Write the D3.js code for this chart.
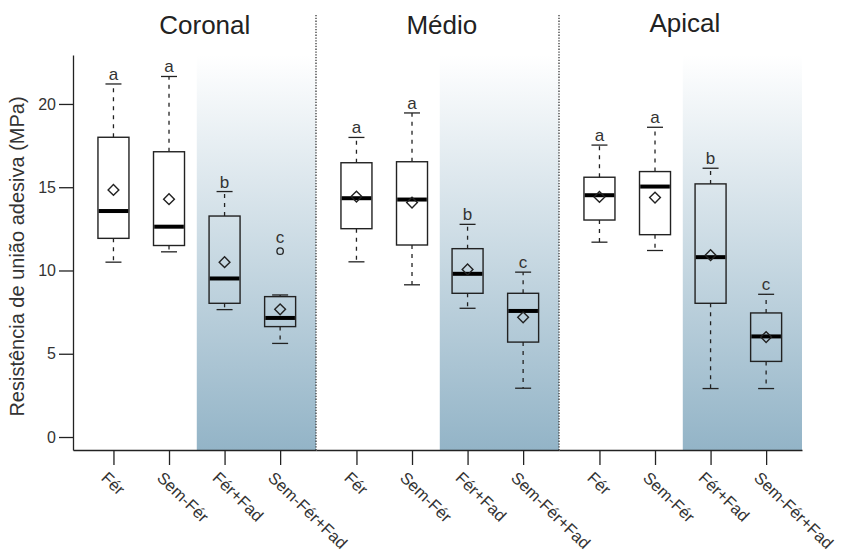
<!DOCTYPE html>
<html>
<head>
<meta charset="utf-8">
<script src="https://cdn.jsdelivr.net/npm/d3@7"></script>
<style>
  body { margin: 0; background: #fff; }
  svg { font-family: "Liberation Sans", Arial, sans-serif; }
  .axis text { fill: #333; }
  .axis path, .axis line { stroke: #222; stroke-width: 1.3; }
</style>
</head>
<body>
<svg id="chart" width="842" height="554"></svg>
<script>
// regions (panels) and treatment groups
const regions = ["Coronal", "Médio", "Apical"];
const groups = ["Fér", "Sem-Fér", "Fér+Fad", "Sem-Fér+Fad"];

// box statistics, 12 boxes in panel order (Coronal x4, Médio x4, Apical x4)
const whiskerLow  = [10.5, 11.12, 7.65, 5.62,  10.52, 9.14, 7.73, 2.93,  11.7, 11.2, 2.91, 2.91];
const q1          = [11.93, 11.5, 8.03, 6.63,  12.51, 11.53, 8.63, 5.7,  13.03, 12.15, 8.03, 4.54];
const medians     = [13.57, 12.63, 9.52, 7.15, 14.34, 14.26, 9.8, 7.57,  14.52, 15.04, 10.8, 6.04];
const q3          = [18.0, 17.13, 13.27, 8.43, 16.47, 16.53, 11.31, 8.63, 15.6, 15.94, 15.2, 7.45];
const whiskerHigh = [21.2, 21.65, 14.74, 8.53, 17.99, 19.46, 12.77, 9.9,  17.53, 18.6, 16.14, 8.57];
const means       = [14.84, 14.28, 10.5, 7.67, 14.44, 14.08, 10.06, 7.19, 14.42, 14.38, 10.92, 6.0];
const outliers    = [[], [], [], [11.16], [], [], [], [], [], [], [], []];
const letters     = ["a", "a", "b", "c", "a", "a", "b", "c", "a", "a", "b", "c"];
const yTicks = [0, 5, 10, 15, 20];

const svg = d3.select("#chart");
const plot = { left: 73, right: 802, top: 55, bottom: 450 };

const y = d3.scaleLinear().domain([-0.78, 22.94]).range([plot.bottom, plot.top]);

const xPanel = d3.scaleBand().domain(regions).range([plot.left, plot.right]);
const xInner = d3.scalePoint().domain(groups).range([0, xPanel.bandwidth()])
    .padding(0.687).align(0.53);

const boxes = [];
regions.forEach((r, i) => groups.forEach((g, j) => {
    const k = i * 4 + j;
    boxes.push({
        region: r, group: g,
        lo: whiskerLow[k], q1: q1[k], med: medians[k], q3: q3[k], hi: whiskerHigh[k],
        mean: means[k], out: outliers[k], letter: letters[k]
    });
}));
const bx = d => xPanel(d.region) + xInner(d.group);

// background gradient for the "+Fad" halves
const defs = svg.append("defs");
const grad = defs.append("linearGradient")
    .attr("id", "shade")
    .attr("gradientUnits", "userSpaceOnUse")
    .attr("x1", 0).attr("x2", 0)
    .attr("y1", plot.top).attr("y2", plot.bottom);
grad.append("stop").attr("offset", "0%").attr("stop-color", "#ffffff");
grad.append("stop").attr("offset", "100%").attr("stop-color", "#93b4c7");

const shadeStart = r => xPanel(r) + (xInner(groups[1]) + xInner(groups[2])) / 2;
svg.append("g").selectAll("rect")
    .data(regions)
    .join("rect")
    .attr("x", shadeStart)
    .attr("y", plot.top)
    .attr("width", r => xPanel(r) + xPanel.bandwidth() - shadeStart(r))
    .attr("height", plot.bottom - plot.top)
    .attr("fill", "url(#shade)");

// dotted panel separators
svg.append("g").selectAll("line")
    .data(regions.slice(1))
    .join("line")
    .attr("x1", r => xPanel(r)).attr("x2", r => xPanel(r))
    .attr("y1", 15).attr("y2", plot.bottom)
    .attr("stroke", "#444")
    .attr("stroke-width", 1.4)
    .attr("stroke-dasharray", "1.3,1.5");

// panel titles
const titleDx = [8, 2, 2];
const titleDy = [0, 0, -2];
svg.append("g").selectAll("text")
    .data(regions)
    .join("text")
    .attr("x", (r, i) => shadeStart(r) + titleDx[i])
    .attr("y", (r, i) => 34 + titleDy[i])
    .attr("text-anchor", "middle")
    .attr("font-size", 26)
    .attr("fill", "#222")
    .text(r => r);

// y axis
svg.append("g")
    .attr("class", "axis")
    .attr("transform", `translate(${plot.left},0)`)
    .call(d3.axisLeft(y).tickValues(yTicks).tickSize(14).tickSizeOuter(0).tickPadding(3))
    .call(g => g.selectAll("text").attr("font-size", 16));

svg.append("text")
    .attr("transform", `translate(24,${(plot.top + plot.bottom) / 2 + 4}) rotate(-90)`)
    .attr("text-anchor", "middle")
    .attr("font-size", 20)
    .attr("fill", "#333")
    .text("Resistência de união adesiva (MPa)");

// x axis, one piece per panel
regions.forEach(r => {
    svg.append("g")
        .attr("class", "axis")
        .attr("transform", `translate(${xPanel(r)},${plot.bottom})`)
        .call(d3.axisBottom(xInner).tickSize(15).tickSizeOuter(0))
        .call(g => g.selectAll("text")
            .attr("x", 0).attr("y", 0).attr("dy", "0.75em")
            .attr("text-anchor", "start")
            .attr("font-size", 16.5)
            .attr("transform", "translate(-5,20) rotate(44)"));
});

// boxplots
const boxW = 31, capW = 16;
const bg = svg.append("g").selectAll("g")
    .data(boxes)
    .join("g");

// whiskers
bg.append("line")
    .attr("x1", bx).attr("x2", bx)
    .attr("y1", d => y(d.q3)).attr("y2", d => y(d.hi))
    .attr("stroke", "#222").attr("stroke-width", 1.3).attr("stroke-dasharray", "4,5");
bg.append("line")
    .attr("x1", bx).attr("x2", bx)
    .attr("y1", d => y(d.q1)).attr("y2", d => y(d.lo))
    .attr("stroke", "#222").attr("stroke-width", 1.3).attr("stroke-dasharray", "4,5");
// caps
bg.selectAll("line.cap")
    .data(d => [{ x: bx(d), v: d.hi }, { x: bx(d), v: d.lo }])
    .join("line")
    .attr("class", "cap")
    .attr("x1", c => c.x - capW / 2).attr("x2", c => c.x + capW / 2)
    .attr("y1", c => y(c.v)).attr("y2", c => y(c.v))
    .attr("stroke", "#222").attr("stroke-width", 1.3);
// box
bg.append("rect")
    .attr("x", d => bx(d) - boxW / 2)
    .attr("y", d => y(d.q3))
    .attr("width", boxW)
    .attr("height", d => y(d.q1) - y(d.q3))
    .attr("fill", "none")
    .attr("stroke", "#222").attr("stroke-width", 1.4);
// median
bg.append("line")
    .attr("x1", d => bx(d) - boxW / 2 + 0.7).attr("x2", d => bx(d) + boxW / 2 - 0.7)
    .attr("y1", d => y(d.med)).attr("y2", d => y(d.med))
    .attr("stroke", "#000").attr("stroke-width", 4);
// mean diamond
bg.append("path")
    .attr("d", d3.symbol(d3.symbolSquare, 58))
    .attr("transform", d => `translate(${bx(d)},${y(d.mean)}) rotate(45)`)
    .attr("fill", "none")
    .attr("stroke", "#222").attr("stroke-width", 1.4);
// outliers
bg.selectAll("circle")
    .data(d => d.out.map(v => ({ x: bx(d), v })))
    .join("circle")
    .attr("cx", o => o.x).attr("cy", o => y(o.v))
    .attr("r", 3.2)
    .attr("fill", "none")
    .attr("stroke", "#222").attr("stroke-width", 1.3);
// group letters
bg.append("text")
    .attr("x", bx)
    .attr("y", d => y(d3.max([d.hi, ...d.out])) - (d.out.length ? 8 : 4))
    .attr("text-anchor", "middle")
    .attr("font-size", 17)
    .attr("fill", "#333")
    .text(d => d.letter);
</script>
</body>
</html>
